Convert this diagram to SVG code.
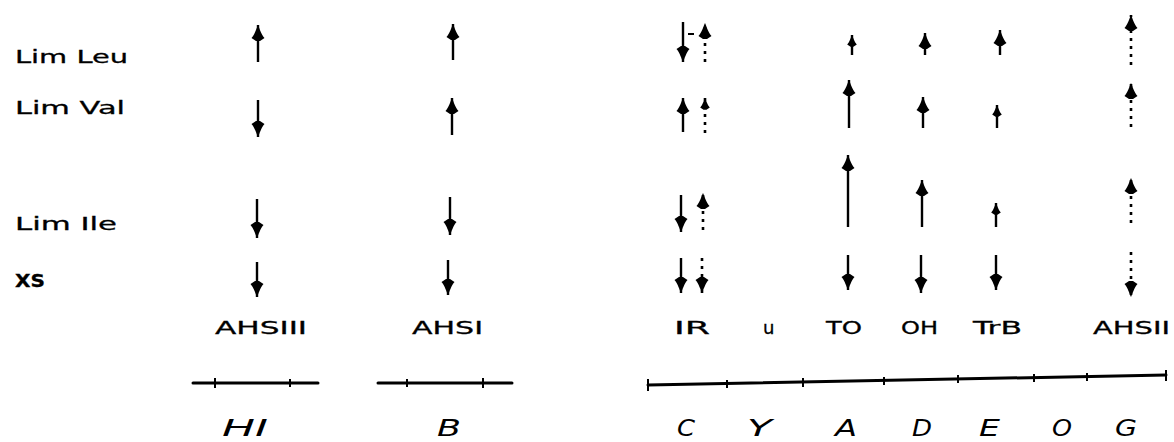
<svg xmlns="http://www.w3.org/2000/svg" width="1174" height="442" viewBox="0 0 1174 442">
<style>
.lbl{font-family:"DejaVu Sans","Liberation Sans",sans-serif;font-size:18px;fill:#000;stroke:#000;stroke-width:0.3}
.it{font-family:"DejaVu Sans","Liberation Sans",sans-serif;font-size:23px;font-style:italic;fill:#000}
.s{stroke:#000;stroke-width:2.4;fill:none;marker-end:url(#ah)}
.d{stroke:#000;stroke-width:2.6;fill:none;stroke-dasharray:3 5;marker-end:url(#ah)}
.ss{stroke:#000;stroke-width:2.4;fill:none;marker-end:url(#ahs)}
.ds{stroke:#000;stroke-width:2.6;fill:none;stroke-dasharray:3 5;marker-end:url(#ahs)}
.axis{stroke:#000;stroke-width:3;fill:none;stroke-linecap:round}
.tk{stroke:#000;stroke-width:2;fill:none}
</style>
<defs>
<marker id="ah" viewBox="-18 -8 19 16" refX="0" refY="0" markerWidth="19" markerHeight="16" markerUnits="userSpaceOnUse" orient="auto">
<path d="M0,0 C-3,-1.5 -9,-3 -13,-6.5 L-16,-2 L-16,2 L-13,6.5 C-9,3 -3,1.5 0,0 Z" fill="#000"/>
</marker>
<marker id="ahs" viewBox="-18 -8 19 16" refX="0" refY="0" markerWidth="14" markerHeight="12" markerUnits="userSpaceOnUse" orient="auto">
<path d="M0,0 C-3,-1.5 -9,-3 -13,-6.5 L-16,-2 L-16,2 L-13,6.5 C-9,3 -3,1.5 0,0 Z" fill="#000"/>
</marker>
</defs>

<g id="row-labels">
<text class="lbl" x="15" y="63" textLength="113" lengthAdjust="spacingAndGlyphs">Lim Leu</text>
<text class="lbl" x="15" y="114" textLength="110" lengthAdjust="spacingAndGlyphs">Lim Val</text>
<text class="lbl" x="15" y="230" textLength="102" lengthAdjust="spacingAndGlyphs">Lim Ile</text>
<text class="lbl" x="15" y="287" font-size="20" font-weight="bold" textLength="30" lengthAdjust="spacingAndGlyphs">XS</text>
</g>

<g id="connectors">
<!-- AHSIII -->
<line class="s" x1="258" y1="62" x2="258" y2="25"/>
<line class="s" x1="258" y1="100" x2="258" y2="137"/>
<line class="s" x1="257" y1="199" x2="257" y2="238"/>
<line class="s" x1="257" y1="262" x2="257" y2="297"/>
<!-- AHSI -->
<line class="s" x1="453" y1="60" x2="453" y2="24"/>
<line class="s" x1="452" y1="135" x2="452" y2="98"/>
<line class="s" x1="450" y1="197" x2="450" y2="235"/>
<line class="s" x1="448" y1="260" x2="448" y2="295"/>
<!-- IR solid -->
<line class="s" x1="683" y1="22" x2="683" y2="62"/>
<line class="s" x1="683" y1="132" x2="683" y2="98"/>
<line class="s" x1="681" y1="195" x2="681" y2="232"/>
<line class="s" x1="681" y1="258" x2="681" y2="293"/>
<line class="tk" x1="688" y1="34" x2="694" y2="34"/>
<!-- IR dotted -->
<line class="d" x1="705" y1="62" x2="705" y2="23"/>
<line class="ds" x1="705" y1="133" x2="705" y2="98"/>
<line class="d" x1="703" y1="230" x2="703" y2="193"/>
<line class="d" x1="702" y1="258" x2="702" y2="293"/>
<!-- TO -->
<line class="ss" x1="852" y1="55" x2="852" y2="35"/>
<line class="s" x1="849" y1="128" x2="849" y2="80"/>
<line class="s" x1="848" y1="227" x2="848" y2="155"/>
<line class="s" x1="848" y1="255" x2="848" y2="290"/>
<!-- OH -->
<line class="s" x1="925" y1="55" x2="925" y2="33"/>
<line class="s" x1="923" y1="128" x2="923" y2="97"/>
<line class="s" x1="922" y1="227" x2="922" y2="180"/>
<line class="s" x1="921" y1="255" x2="921" y2="293"/>
<!-- TrB -->
<line class="s" x1="1000" y1="55" x2="1000" y2="30"/>
<line class="ss" x1="997" y1="128" x2="997" y2="105"/>
<line class="ss" x1="996" y1="227" x2="996" y2="203"/>
<line class="s" x1="996" y1="255" x2="996" y2="290"/>
<!-- AHSII dotted -->
<line class="d" x1="1131" y1="65" x2="1131" y2="15"/>
<line class="d" x1="1131" y1="127" x2="1131" y2="83"/>
<line class="d" x1="1131" y1="223" x2="1131" y2="178"/>
<line class="d" x1="1131" y1="252" x2="1131" y2="297"/>
</g>

<g id="site-labels">
<text class="lbl" x="215" y="334" textLength="92" lengthAdjust="spacingAndGlyphs">AHSIII</text>
<text class="lbl" x="412" y="334" textLength="71" lengthAdjust="spacingAndGlyphs">AHSI</text>
<text class="lbl" x="674" y="334" textLength="36" lengthAdjust="spacingAndGlyphs">IR</text>
<text class="lbl" x="763" y="334" font-size="13">u</text>
<text class="lbl" x="826" y="334" textLength="36" lengthAdjust="spacingAndGlyphs">TO</text>
<text class="lbl" x="901" y="334" textLength="37" lengthAdjust="spacingAndGlyphs">OH</text>
<text class="lbl" x="973" y="334" textLength="49" lengthAdjust="spacingAndGlyphs">TrB</text>
<text class="lbl" x="1093" y="334" textLength="77" lengthAdjust="spacingAndGlyphs">AHSII</text>
</g>

<g id="map-HI">
<line class="axis" x1="193" y1="383" x2="318" y2="383"/>
<line class="tk" x1="215" y1="378" x2="215" y2="388"/>
<line class="tk" x1="290" y1="379" x2="290" y2="387"/>
<text class="it" x="222" y="436" textLength="46" lengthAdjust="spacingAndGlyphs">HI</text>
</g>
<g id="map-B">
<line class="axis" x1="378" y1="383" x2="512" y2="383"/>
<line class="tk" x1="407" y1="379" x2="407" y2="387"/>
<line class="tk" x1="483" y1="378" x2="483" y2="388"/>
<text class="it" x="437" y="436" textLength="24" lengthAdjust="spacingAndGlyphs">B</text>
</g>
<g id="map-main">
<line class="axis" x1="648" y1="385" x2="1166" y2="375"/>
<line class="tk" x1="648" y1="379" x2="648" y2="391"/>
<line class="tk" x1="1166" y1="370" x2="1166" y2="381"/>
<line class="tk" x1="727" y1="380" x2="727" y2="388"/>
<line class="tk" x1="803" y1="378" x2="803" y2="387"/>
<line class="tk" x1="884" y1="377" x2="884" y2="385"/>
<line class="tk" x1="958" y1="375" x2="958" y2="383"/>
<line class="tk" x1="1034" y1="374" x2="1034" y2="382"/>
<line class="tk" x1="1087" y1="373" x2="1087" y2="381"/>
<text class="it" x="677" y="436" textLength="18" lengthAdjust="spacingAndGlyphs">C</text>
<text class="it" x="747" y="436" textLength="25" lengthAdjust="spacingAndGlyphs">Y</text>
<text class="it" x="835" y="436" textLength="22" lengthAdjust="spacingAndGlyphs">A</text>
<text class="it" x="912" y="436" textLength="20" lengthAdjust="spacingAndGlyphs">D</text>
<text class="it" x="979" y="436" textLength="21" lengthAdjust="spacingAndGlyphs">E</text>
<text class="it" x="1052" y="436" textLength="20" lengthAdjust="spacingAndGlyphs">O</text>
<text class="it" x="1115" y="436" textLength="22" lengthAdjust="spacingAndGlyphs">G</text>
</g>
</svg>
